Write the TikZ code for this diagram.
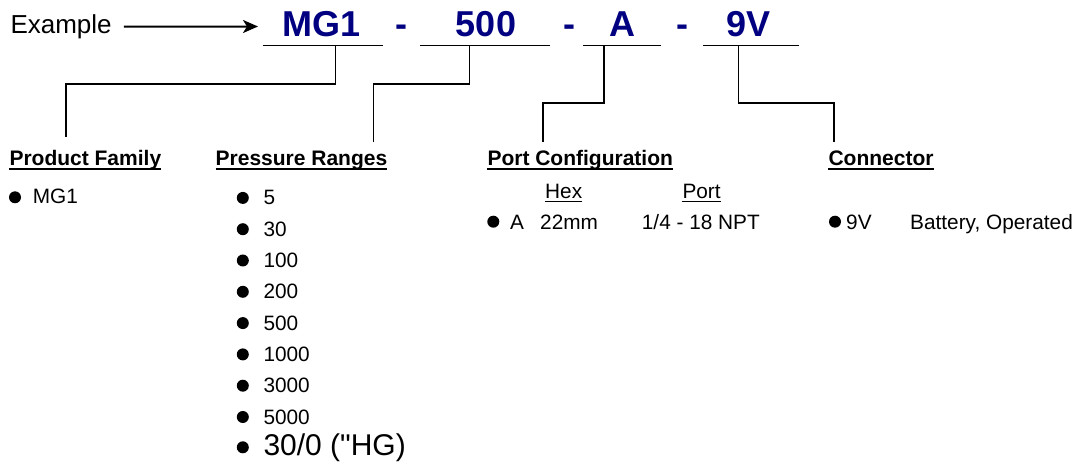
\documentclass[tikz,border=0pt]{standalone}
\usepackage{fontspec}
\setmainfont{Liberation Sans}
\usetikzlibrary{arrows.meta}
\definecolor{codeblue}{RGB}{0,0,128}
\begin{document}
\begin{tikzpicture}[x=1pt,y=-1pt,
  txt/.style={inner sep=0pt, anchor=base west, font=\fontsize{20.8}{24}\selectfont},
  bigtxt/.style={inner sep=0pt, anchor=base west, font=\fontsize{30}{34}\selectfont},
  hdr/.style={inner sep=0pt, anchor=base west, font=\bfseries\fontsize{21}{25}\selectfont},
  code/.style={inner sep=0pt, anchor=base, text=codeblue, font=\bfseries\fontsize{36}{40}\selectfont},
  bul/.style={circle, fill=black, draw=none, inner sep=0pt, outer sep=0pt, minimum size=12pt},
  uline/.style={line width=1.6pt},
  hline/.style={line width=2pt},
  sline/.style={line width=1.3pt},
  conn/.style={line width=1.8pt},
]
\useasboundingbox (0,0) rectangle (1081,462);

% top row
\node[inner sep=0pt, anchor=base west, font=\fontsize{26}{30}\selectfont] (ex) at (10.3,33.3) {Example};
\coordinate (arrEnd) at (258,26.5);
\draw[line width=2pt, -{Stealth[length=15pt,width=13pt,inset=4pt]}] ([xshift=12pt]ex.east) -- (arrEnd);

\node[code] (mg) at (322,36.7) {MG1};
\node[code] (d1) at (401.2,36.7) {-};
\node[code] (pr) at (486,36.7) {500};
\node[code] (d2) at (569.2,36.7) {-};
\node[code] (pc) at (622.5,36.7) {A};
\node[code] (d3) at (682.8,36.7) {-};
\node[code] (cn) at (748.8,36.7) {9V};

\coordinate (u1w) at (262.7,45.5); \coordinate (u1e) at (382.7,45.5);
\coordinate (u2w) at (420,45.5);   \coordinate (u2e) at (550,45.5);
\coordinate (u3w) at (583.3,45.5); \coordinate (u3e) at (660.7,45.5);
\coordinate (u4w) at (703.3,45.5); \coordinate (u4e) at (799,45.5);
\draw[uline] (u1w) -- (u1e);
\draw[uline] (u2w) -- (u2e);
\draw[uline] (u3w) -- (u3e);
\draw[uline] (u4w) -- (u4e);

% connector start and end points
\coordinate (c1) at (335.5,45.5); \coordinate (e1) at (66,136.7);
\coordinate (c2) at (469.5,45.5); \coordinate (e2) at (373.5,141.7);
\coordinate (c3) at (603.7,45.5); \coordinate (e3) at (542.7,141.7);
\coordinate (c4) at (738.5,45.5); \coordinate (e4) at (834,141.7);
\draw[conn] (c1) -- ++(0,38.5) -| (e1);
\draw[conn] (c2) -- ++(0,38.5) -| (e2);
\draw[conn] (c3) -- ++(0,57.8) -| (e3);
\draw[conn] (c4) -- ++(0,57.8) -| (e4);

% headers
\node[hdr] (h1) at (9.3,166) {Product Family};
\node[hdr] (h2) at (215.5,166) {Pressure Ranges};
\node[hdr] (h3) at (487.3,166) {Port Configuration};
\node[hdr] (h4) at (828.3,166) {Connector};
\foreach \h in {h1,h2,h3,h4}
  \draw[hline] ([yshift=-3.5pt]\h.base west) -- ([yshift=-3.5pt]\h.base east);

% product family
\node[bul] (pfb) at (15,197.3) {};
\node[txt] (pf1) at (32.7,204) {MG1};

% pressure ranges
\foreach \t [count=\i from 0] in {5,30,100,200,500,1000,3000,5000} {
  \node[bul] (prb\i) at (242.8,{204.9+31.3*\i-7}) {};
  \node[txt] (pr\i) at (263.3,{204.9+31.3*\i}) {\t};
}
\node[bul] (prb8) at (242.8,447.3) {};
\node[bigtxt] (pr8) at (263.3,455) {30/0 (\textquotedbl HG)};

% port configuration
\node[txt] (hex) at (545,198.3) {Hex};
\node[txt] (port) at (682.3,198.3) {Port};
\draw[sline] ([yshift=-3.3pt]hex.base west) -- ([yshift=-3.3pt]hex.base east);
\draw[sline] ([yshift=-3.3pt]port.base west) -- ([yshift=-3.3pt]port.base east);
\node[bul] (pcb) at (493.3,221.7) {};
\node[txt] (pca) at (510,229.3) {A};
\node[txt] (pch) at (540,229.3) {22mm};
\node[txt] (pcp) at (641.7,229.3) {1/4 - 18 NPT};

% connector
\node[bul] (cnb) at (835,221.7) {};
\node[txt] (cn1) at (846,229.3) {9V};
\node[txt] (cn2) at (910,229.3) {Battery, Operated};
\end{tikzpicture}
\end{document}
